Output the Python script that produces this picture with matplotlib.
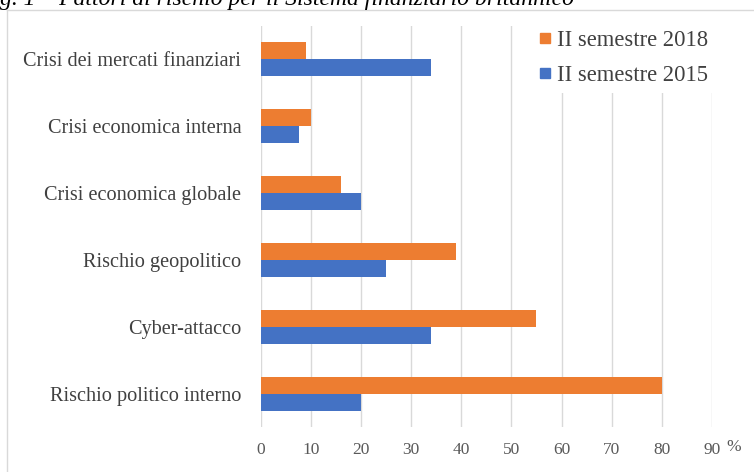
import numpy as np
import matplotlib.pyplot as plt
from matplotlib.lines import Line2D

# dati (dal basso verso l'alto)
categorie = ['Rischio politico interno', 'Cyber-attacco', 'Rischio geopolitico',
             'Crisi economica globale', 'Crisi economica interna',
             'Crisi dei mercati finanziari']
sem_2018 = [80, 55, 39, 16, 10, 9]
sem_2015 = [20, 34, 25, 20, 7.7, 34]
tick_x = [0, 10, 20, 30, 40, 50, 60, 70, 80, 90]

ARANCIO = '#ED7D31'
BLU = '#4472C4'
GRIGIO = '#D9D9D9'
W, H = 754, 472

plt.rcParams['font.family'] = ['Liberation Serif', 'DejaVu Serif']

fig = plt.figure(figsize=(W / 100, H / 100), dpi=100)

# cornice del grafico (tagliata a destra e in basso)
fig.add_artist(Line2D([6.5 / W, 6.5 / W], [0, (H - 10) / H], color=GRIGIO, lw=1,
                      transform=fig.transFigure))
fig.add_artist(Line2D([6.5 / W, 1], [(H - 10) / H, (H - 10) / H], color=GRIGIO, lw=1,
                      transform=fig.transFigure))

# titolo tagliato in alto
fig.text(574 / W, (H - 5) / H, 'Fig. 1 \u2013 Fattori di rischio per il Sistema finanziario britannico',
         ha='right', va='baseline', fontsize=17, style='italic', color='black')

ax = fig.add_axes([260.7 / W, 1 - 427 / H, (712 - 260.7) / W, (427 - 26) / H])

y = np.arange(len(categorie))
h = 0.255
ax.barh(y + h / 2, sem_2018, height=h, color=ARANCIO, zorder=3)
ax.barh(y - h / 2, sem_2015, height=h, color=BLU, zorder=3)

ax.set_xlim(0, 90)
ax.set_ylim(-0.5, len(categorie) - 0.5)
ax.set_xticks(tick_x)
ax.set_yticks(y)
ax.set_yticklabels(categorie, fontsize=14.6, color='#404040')
ax.tick_params(axis='y', length=0, pad=14)
ax.tick_params(axis='x', length=0, pad=11, labelsize=12.5, labelcolor='#595959')
ax.grid(axis='x', color=GRIGIO, lw=1, zorder=0)
for s in ax.spines.values():
    s.set_visible(False)

fig.text(734 / W, 1 - 447 / H, '%', ha='center', va='center', fontsize=12.5, color='#595959')

handles = [Line2D([], [], marker='s', ls='none', color=ARANCIO, markersize=7.5),
           Line2D([], [], marker='s', ls='none', color=BLU, markersize=7.5)]
leg = ax.legend(handles, ['II semestre 2018', 'II semestre 2015'],
                loc='upper left', bbox_to_anchor=(530 / W, 1 - 22 / H),
                bbox_transform=fig.transFigure, fontsize=16.3, frameon=True,
                handlelength=0.6, handletextpad=0.25, labelspacing=0.6,
                borderpad=0.35, borderaxespad=0)
leg.get_frame().set_facecolor('white')
leg.get_frame().set_edgecolor('none')
leg.get_frame().set_alpha(1)
for t in leg.get_texts():
    t.set_color('#404040')

fig.savefig('out.png', dpi=100)
